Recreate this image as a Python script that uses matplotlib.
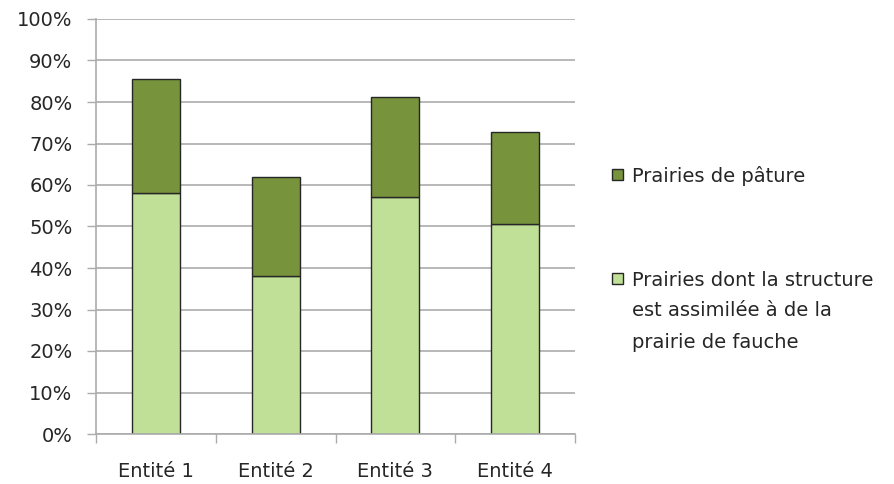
import matplotlib
matplotlib.use("Agg")
import matplotlib.pyplot as plt
from matplotlib.patches import Rectangle
from matplotlib.ticker import FixedLocator, PercentFormatter

categories = ["Entité 1", "Entité 2", "Entité 3", "Entité 4"]
fauche = [58.0, 38.0, 57.2, 50.7]      # Prairies dont la structure est assimilée à de la prairie de fauche
pature = [27.6, 24.0, 24.1, 22.1]      # Prairies de pâture
y_ticks = [0, 10, 20, 30, 40, 50, 60, 70, 80, 90, 100]

label_pature = "Prairies de pâture"
label_fauche = "Prairies dont la structure\nest assimilée à de la\nprairie de fauche"

col_light = "#C0E098"
col_dark = "#77933C"
edge = "#262626"
grid_col = "#ABABAB"
text_col = "#262626"

plt.rcParams["font.family"] = ["DejaVu Sans"]
fs = 14

W, H = 895, 484
fig = plt.figure(figsize=(W / 100, H / 100), dpi=100)
ax = fig.add_axes([96 / W, 1 - 434 / H, (575 - 96) / W, (434 - 19) / H])

x = list(range(len(categories)))
ax.bar(x, fauche, width=0.40, color=col_light, edgecolor=edge, linewidth=1.0, zorder=3)
ax.bar(x, pature, width=0.40, bottom=fauche, color=col_dark, edgecolor=edge,
       linewidth=1.0, zorder=3)

ax.set_ylim(0, 100)
ax.set_xlim(-0.5, len(categories) - 0.5)
ax.set_yticks(y_ticks)
ax.yaxis.set_major_formatter(PercentFormatter(decimals=0))
ax.yaxis.grid(True, color=grid_col, linewidth=1.2, zorder=0)
ax.tick_params(axis="y", length=6.5, width=1.0, color=grid_col, pad=10.5,
               labelsize=fs, labelcolor=text_col)

# category boundaries carry the ticks, labels sit at the centres
ax.xaxis.set_major_locator(FixedLocator([i - 0.5 for i in range(len(categories) + 1)]))
ax.xaxis.set_minor_locator(FixedLocator(x))
ax.set_xticklabels([], minor=False)
ax.set_xticklabels(categories, minor=True)
ax.tick_params(axis="x", which="major", length=6.5, width=1.0, color=grid_col)
ax.tick_params(axis="x", which="minor", length=0, pad=20.5, labelsize=fs, labelcolor=text_col)

for side in ["top", "right"]:
    ax.spines[side].set_visible(False)
for side in ["left", "bottom"]:
    ax.spines[side].set_color(grid_col)
    ax.spines[side].set_linewidth(1.2)
    ax.spines[side].set_zorder(4)

# legend: swatch aligned with the first line of each label
legend_items = [(label_pature, col_dark, 174), (label_fauche, col_light, 278)]
sw = 11
for label, colour, yc in legend_items:
    fig.patches.append(Rectangle((612 / W, 1 - (yc + sw / 2) / H), sw / W, sw / H,
                                 transform=fig.transFigure, facecolor=colour,
                                 edgecolor=edge, linewidth=1.0))
    lines = label.split("\n")
    for k, line in enumerate(lines):
        fig.text(632 / W, 1 - (yc + k * 31) / H, line, ha="left", va="center_baseline",
                 fontsize=fs, color=text_col)

fig.savefig("out.png", dpi=100, facecolor="white")
